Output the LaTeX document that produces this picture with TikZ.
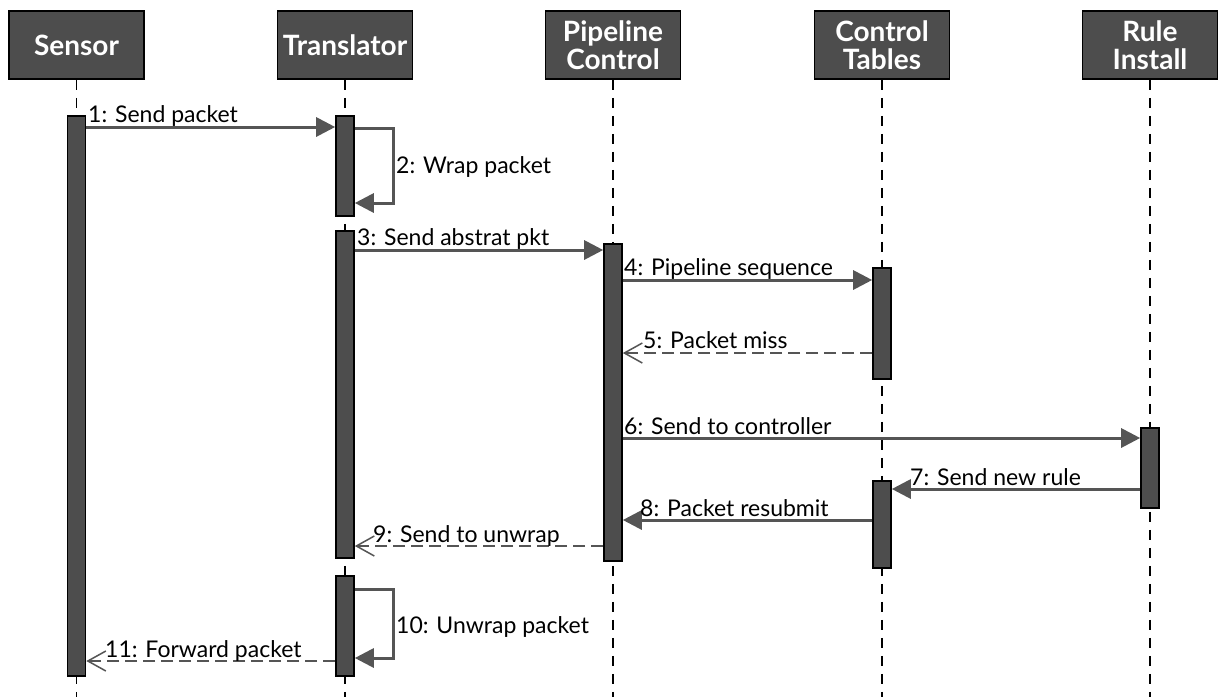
\documentclass[tikz,border=0pt]{standalone}
\usepackage{fontspec}
\setmainfont{Lato}
\usetikzlibrary{arrows.meta}
\definecolor{boxgray}{HTML}{4D4D4D}
\definecolor{linegray}{HTML}{555555}

\begin{document}
\begin{tikzpicture}[x=1pt,y=-1pt,
  actor/.style={draw=black, line width=1.6pt, fill=boxgray, text=white,
    font=\bfseries\fontsize{28}{28}\selectfont, minimum width=135pt,
    minimum height=68pt, align=center, inner sep=0pt},
  lifeline/.style={draw=black, line width=1.5pt, dash pattern=on 10pt off 8pt},
  actbar/.style={draw=black, line width=1.6pt, fill=boxgray, minimum width=18pt,
    inner sep=0pt, anchor=north},
  call/.style={draw=linegray, line width=3pt, line join=miter,
    -{Triangle[length=19pt,width=19pt]}},
  reply/.style={draw=linegray, line width=2.5pt, dash pattern=on 12pt off 6pt,
    -{Straight Barb[length=18pt,width=20pt,line width=1.5pt]}},
  lbl/.style={font=\fontsize{23}{26}\selectfont, anchor=base west, inner sep=0pt}
]
\fill[white] (0,0) rectangle (1219,697);
\useasboundingbox (0,0) rectangle (1219,697);

% participants
\node[actor] (sensor) at (76.5,45) {Sensor};
\node[actor] (trans)  at (345,45) {Translator};
\node[actor] (pipe)   at (613,45) {Pipeline\\Control};
\node[actor] (tables) at (882,45) {Control\\Tables};
\node[actor] (rule)   at (1150,45) {Rule\\Install};

% lifelines
\foreach \p in {sensor,trans,pipe,tables,rule}
  \draw[lifeline] (\p.south) -- (\p.south |- 0,697);

% activation bars
\node[actbar, minimum height=560] (s1) at (sensor.south |- 0,115) {};
\node[actbar, minimum height=100] (t1) at (trans.south |- 0,115) {};
\node[actbar, minimum height=327] (t2) at (trans.south |- 0,230) {};
\node[actbar, minimum height=100] (t3) at (trans.south |- 0,575) {};
\node[actbar, minimum height=317] (p1) at (pipe.south |- 0,243) {};
\node[actbar, minimum height=111] (c1) at (tables.south |- 0,267) {};
\node[actbar, minimum height=87]  (c2) at (tables.south |- 0,480) {};
\node[actbar, minimum height=80]  (r1) at (rule.south |- 0,427) {};

% messages
\draw[call] (s1.north east |- 0,127) -- (t1.north west |- 0,127);
\node[lbl] (l1) at (88,122) {1: Send packet};

\draw[call] (t1.north east |- 0,128) -- ++(39,0) |- (t1.north east |- 0,203);
\node[lbl] (l2) at (396,173) {2: Wrap packet};

\draw[call] (t2.north east |- 0,250) -- (p1.north west |- 0,250);
\node[lbl] (l3) at (357,245) {3: Send abstrat pkt};

\draw[call] (p1.north east |- 0,280) -- (c1.north west |- 0,280);
\node[lbl] (l4) at (624,275) {4: Pipeline sequence};

\draw[reply] (c1.north west |- 0,353) -- (p1.north east |- 0,353);
\node[lbl] (l5) at (643,348) {5: Packet miss};

\draw[call] (p1.north east |- 0,438) -- (r1.north west |- 0,438);
\node[lbl] (l6) at (624,434) {6: Send to controller};

\draw[call] (r1.north west |- 0,489) -- (c2.north east |- 0,489);
\node[lbl] (l7) at (910,485) {7: Send new rule};

\draw[call] (c2.north west |- 0,520) -- (p1.north east |- 0,520);
\node[lbl] (l8) at (640,516) {8: Packet resubmit};

\draw[reply] (p1.north west |- 0,546) -- (t2.north east |- 0,546);
\node[lbl] (l9) at (373,542) {9: Send to unwrap};

\draw[call] (t3.north east |- 0,589) -- ++(39,0) |- (t3.north east |- 0,658);
\node[lbl] (l10) at (396,633) {10: Unwrap packet};

\draw[reply] (t3.north west |- 0,661) -- (s1.north east |- 0,661);
\node[lbl] (l11) at (105,657) {11: Forward packet};
\end{tikzpicture}
\end{document}
